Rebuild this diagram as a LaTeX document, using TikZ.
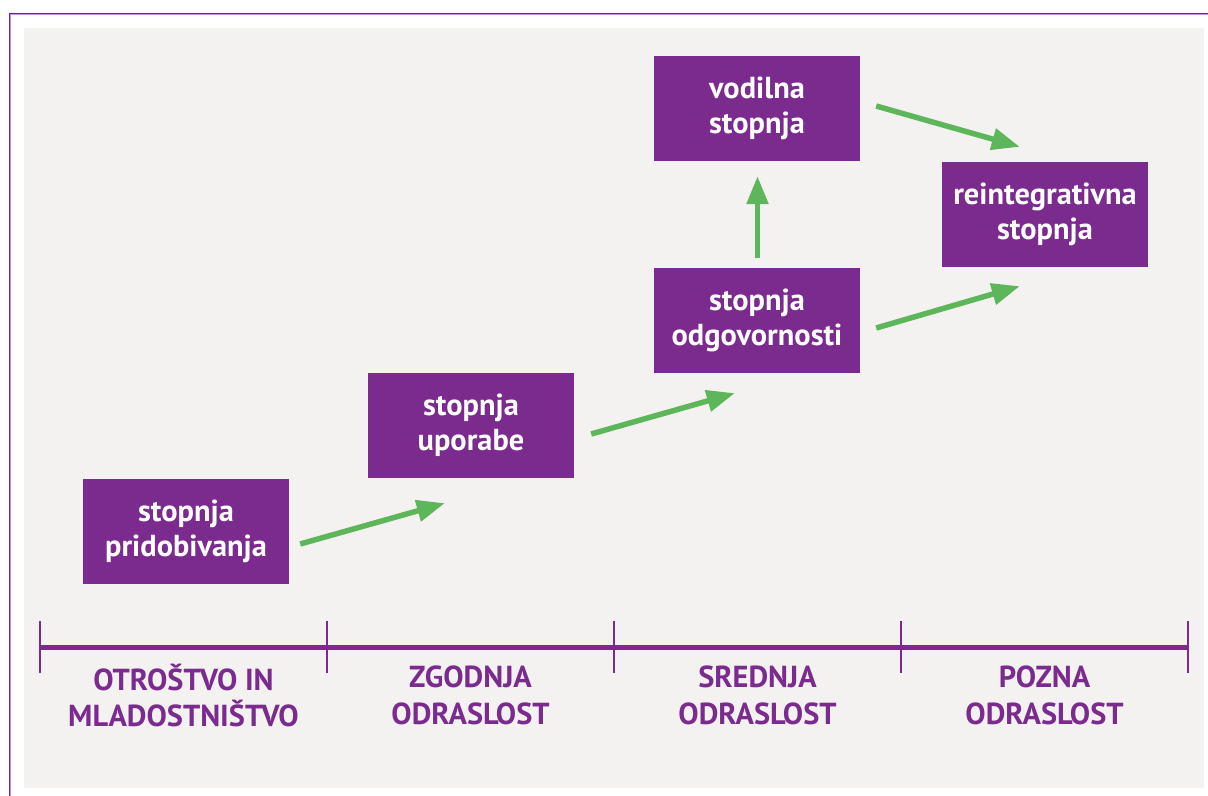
\documentclass[tikz,border=0pt]{standalone}
\usepackage{fontspec}
\setmainfont{PT Sans}
\usetikzlibrary{arrows.meta,calc}
\definecolor{stagepurple}{HTML}{7B2A8E}
\definecolor{framedark}{HTML}{6E2A86}
\definecolor{framelight}{HTML}{C28DD4}
\definecolor{panelgray}{HTML}{F3F2F1}
\definecolor{arrowgreen}{HTML}{5DB659}
\tikzset{
  stagebox/.style={fill=stagepurple, text=white, minimum width=206bp, minimum height=105bp,
    inner sep=0pt, align=center, font=\fontsize{30.5}{35.5}\selectfont\bfseries},
  periodlabel/.style={text=stagepurple, align=center, inner sep=0pt,
    font=\fontsize{30.5}{36.5}\selectfont\bfseries},
  growth/.style={draw=arrowgreen, line width=5.5bp, -{Triangle[length=28bp,width=21bp]}},
  axisline/.style={draw=stagepurple, line width=5bp},
  axistick/.style={draw=stagepurple, line width=2.2bp}
}
\begin{document}
\begin{tikzpicture}[x=1bp, y=-1bp]
  % page and panel
  \useasboundingbox (0,0) rectangle (1208,796);
  \fill[white] (0,0) rectangle (1208,796);
  \fill[panelgray] (24,28) rectangle (1204,788);
  % outer frame, top and left edges
  \draw[framedark, line width=1.3bp] (9,13.4) -- (1208,13.4);
  \draw[framelight, line width=1.2bp] (10,14.7) -- (1208,14.7);
  \draw[framedark, line width=1.3bp] (9.3,13) -- (9.3,796);
  \draw[framelight, line width=1.2bp] (10.6,15) -- (10.6,796);

  % stages
  \node[stagebox] (acq) at (186,531.5) {stopnja\\pridobivanja};
  \node[stagebox] (use) at (471,425.5) {stopnja\\uporabe};
  \node[stagebox] (resp) at (757,320.5) {stopnja\\odgovornosti};
  \node[stagebox] (lead) at (757,108.5) {vodilna\\stopnja};
  \node[stagebox] (reint) at (1045,214.5) {reintegrativna\\stopnja};

  % arrow end points beside the boxes
  \coordinate (a1s) at ($(acq.east)+(11,12.5)$);
  \coordinate (a1e) at ($(use.south west)+(77,25)$);
  \coordinate (a2s) at ($(use.east)+(17,8.5)$);
  \coordinate (a2e) at ($(resp.south west)+(81,20)$);
  \coordinate (a3s) at ($(resp.north)+(0.5,-10)$);
  \coordinate (a3e) at ($(lead.south)+(0.5,15)$);
  \coordinate (a4s) at ($(resp.east)+(16,7.5)$);
  \coordinate (a4e) at ($(reint.south west)+(78,19)$);
  \coordinate (a5s) at ($(lead.east)+(16,-2.5)$);
  \coordinate (a5e) at ($(reint.north west)+(78,-15)$);

  \draw[growth] (a1s) -- (a1e);
  \draw[growth] (a2s) -- (a2e);
  \draw[growth] (a3s) -- (a3e);
  \draw[growth] (a4s) -- (a4e);
  \draw[growth] (a5s) -- (a5e);

  % time axis
  \coordinate (t0) at (40,647);
  \coordinate (t1) at (327,647);
  \coordinate (t2) at (614,647);
  \coordinate (t3) at (901,647);
  \coordinate (t4) at (1188,647);
  \draw[axisline] (t0) -- (t4);
  \foreach \t in {t0,t1,t2,t3,t4}
    \draw[axistick] ($(\t)+(0,-26)$) -- ($(\t)+(0,26)$);

  % life periods
  \node[periodlabel] (p1) at ($(t0)!0.5!(t1)+(0,48.5)$) {OTROŠTVO IN\\MLADOSTNIŠTVO};
  \node[periodlabel] (p2) at ($(t1)!0.5!(t2)+(0,48.5)$) {ZGODNJA\\ODRASLOST};
  \node[periodlabel] (p3) at ($(t2)!0.5!(t3)+(0,48.5)$) {SREDNJA\\ODRASLOST};
  \node[periodlabel] (p4) at ($(t3)!0.5!(t4)+(0,48.5)$) {POZNA\\ODRASLOST};
\end{tikzpicture}
\end{document}
